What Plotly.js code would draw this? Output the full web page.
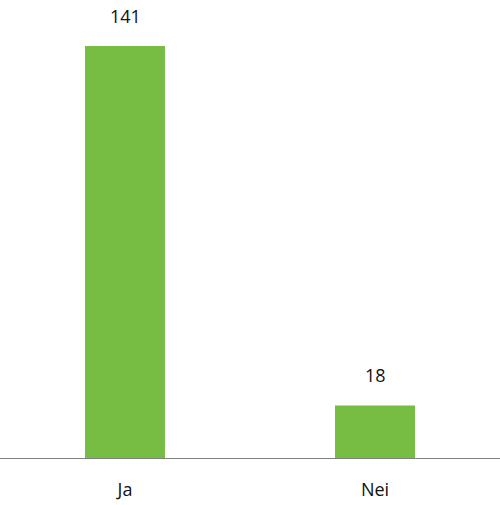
<!DOCTYPE html>
<html>
<head>
<meta charset="utf-8">
<script src="https://cdn.plot.ly/plotly-3.0.1.min.js"></script>
<style>html,body{margin:0;padding:0;background:#fff;}#chart{width:500px;height:505px;}</style>
</head>
<body>
<div id="chart"></div>
<script>
const categories = ["Ja", "Nei"];
const values = [141, 18];

const fontFam = '"Open Sans", "Noto Sans", sans-serif';

const trace = {
  type: 'bar',
  x: categories,
  y: values,
  marker: {color: '#77bd43'},
  hoverinfo: 'none'
};

const annotations = categories.map((c, i) => ({
  x: c, y: values[i], xref: 'x', yref: 'y',
  text: String(values[i]), showarrow: false,
  yanchor: 'middle', yshift: 30,
  font: {family: fontFam, size: 18, color: '#111111'}
}));

const layout = {
  width: 500, height: 505,
  margin: {l: 0, r: 0, t: 0, b: 47},
  paper_bgcolor: '#fff', plot_bgcolor: '#fff',
  bargap: 0.68,
  showlegend: false,
  xaxis: {
    range: [-0.5, 1.5],
    showline: true, linecolor: '#808080', linewidth: 1,
    showgrid: false, zeroline: false,
    ticks: 'outside', ticklen: 15, tickcolor: 'rgba(0,0,0,0)',
    tickfont: {family: fontFam, size: 18, color: '#111111'}
  },
  yaxis: {
    range: [0, 156.7],
    visible: false, showgrid: false, zeroline: false
  },
  annotations: annotations
};

Plotly.newPlot('chart', [trace], layout, {displayModeBar: false, staticPlot: true});
</script>
</body>
</html>
